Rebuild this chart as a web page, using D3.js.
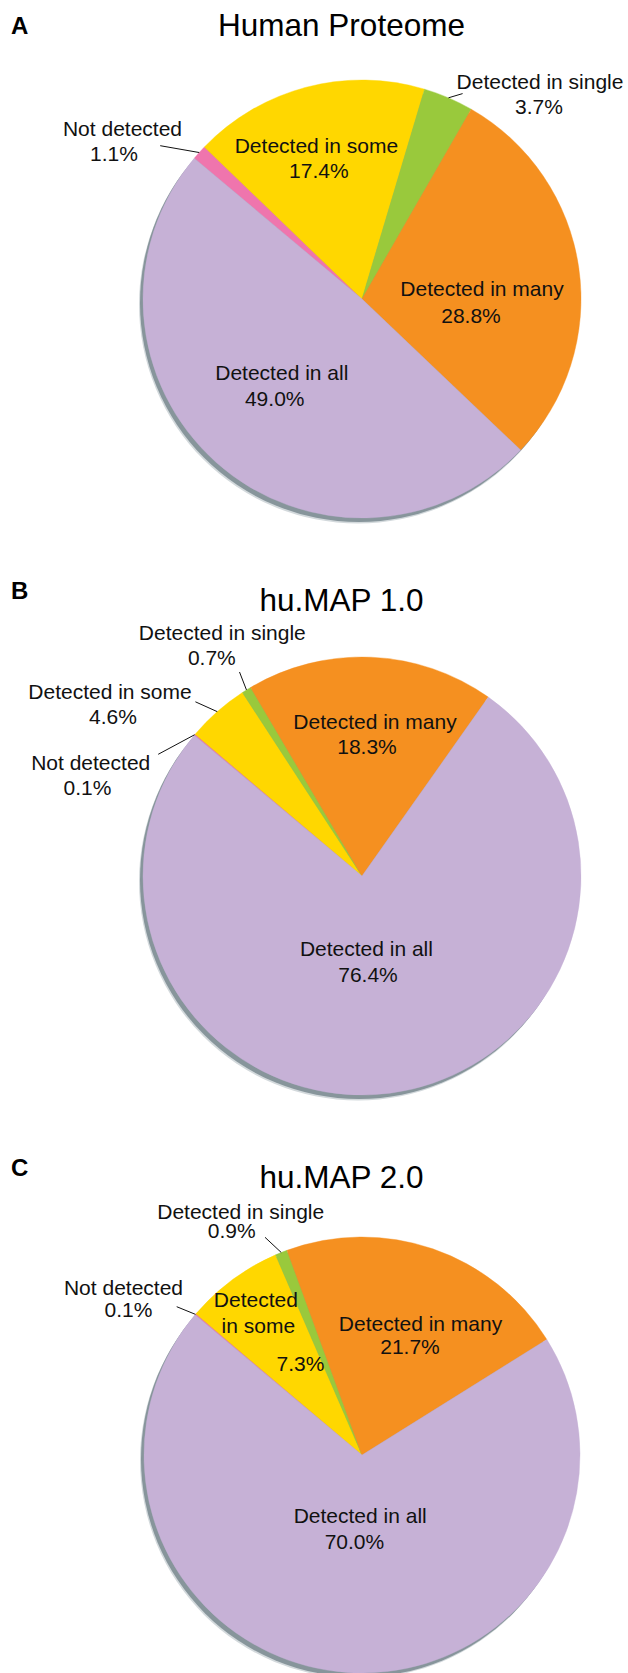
<!DOCTYPE html>
<html>
<head>
<meta charset="utf-8">
<script src="https://cdn.jsdelivr.net/npm/d3@7"></script>
<style>
  body { margin: 0; background: #fff; }
  svg { display: block; font-family: "Liberation Sans", Arial, sans-serif; }
</style>
</head>
<body>
<svg id="chart" width="628" height="1673"></svg>
<script>
// Slice order (clockwise from the first slice)
const categories = ["Not detected", "Detected in some", "Detected in single", "Detected in many", "Detected in all"];

// Percentages per panel, same order as categories
const proteomeValues = [1.1, 17.4, 3.7, 28.8, 49.0];
const humap1Values = [0.1, 4.6, 0.7, 18.3, 76.4];
const humap2Values = [0.1, 7.3, 0.9, 21.7, 70.0];

const titles = ["Human Proteome", "hu.MAP 1.0", "hu.MAP 2.0"];
const panelLetters = ["A", "B", "C"];

const colors = ["#EF75AD", "#FFD700", "#99C93C", "#F59020", "#C6B1D6"];

// Layout of each panel: pie center, radius, title / letter baselines
const panels = [
  { values: proteomeValues, cx: 362, cy: 299, r: 219, titleY: 36, letterY: 34 },
  { values: humap1Values, cx: 362, cy: 876, r: 219, titleY: 611, letterY: 599 },
  { values: humap2Values, cx: 362, cy: 1455, r: 218, titleY: 1188, letterY: 1176 },
];

// Label lines per slice, offsets relative to pie center: [text, dx, dy]
// text 0 = category name, 1 = percentage, otherwise literal text
// leader: outer end of the leader line relative to center
const labelLayout = [
  [ // A
    { lines: [[0, -239.5, -162.6], [1, -248, -137.6]], leader: [-201.8, -153.3] },
    { lines: [[0, -45.6, -146.1], [1, -43.2, -121.5]] },
    { lines: [[0, 178, -210.4], [1, 177, -185.4]], leader: [100.6, -205.4] },
    { lines: [[0, 120, -2.6], [1, 109, 24.2]] },
    { lines: [[0, -80.2, 80.6], [1, -87.3, 107]] },
  ],
  [ // B
    { lines: [[0, -271.3, -105.6], [1, -274.5, -80.6]], leader: [-203.8, -121.7] },
    { lines: [[0, -252, -177], [1, -249, -152]], leader: [-166.6, -174.2] },
    { lines: [[0, -139.7, -236], [1, -150.2, -211]], leader: [-122.5, -204] },
    { lines: [[0, 13, -146.7], [1, 5, -122.4]] },
    { lines: [[0, 4.4, 80], [1, 6, 106]] },
  ],
  [ // C
    { lines: [[0, -238.5, -160.5], [1, -233.5, -138]], leader: [-185.3, -148.3] },
    { lines: [["Detected", -106.2, -148.3], ["in some", -103.7, -122.3], [1, -61.6, -83.8]] },
    { lines: [[0, -121.3, -236.5], [1, -130.3, -216.7]], leader: [-97, -217.7] },
    { lines: [[0, 58.5, -124], [1, 48, -101]] },
    { lines: [[0, -1.8, 67.9], [1, -7.6, 93.8]] },
  ],
];

const svg = d3.select("#chart");
const deg = Math.PI / 180;

const pie = d3.pie()
  .sort(null)
  .startAngle(-50 * deg)
  .endAngle(310 * deg);

panels.forEach((p, pi) => {
  const g = svg.append("g").attr("transform", `translate(${p.cx},${p.cy})`);
  const arc = d3.arc().innerRadius(0).outerRadius(p.r);
  const rim = d3.arc().innerRadius(p.r).outerRadius(p.r);
  const slices = pie(p.values);

  // panel letter and title
  svg.append("text")
    .attr("x", 11)
    .attr("y", p.letterY)
    .style("font-size", "24px")
    .style("font-weight", "bold")
    .text(panelLetters[pi]);

  svg.append("text")
    .attr("x", 341.5)
    .attr("y", p.titleY)
    .attr("text-anchor", "middle")
    .style("font-size", "31.5px")
    .text(titles[pi]);

  // drop shadow to the lower left
  g.append("circle").attr("cx", -4).attr("cy", 5.5).attr("r", p.r).attr("fill", "#D3D9DC");
  g.append("circle").attr("cx", -3).attr("cy", 4).attr("r", p.r).attr("fill", "#87959B");

  g.selectAll("path.slice")
    .data(slices)
    .enter()
    .append("path")
    .attr("class", "slice")
    .attr("d", arc)
    .attr("fill", (d, i) => colors[i])
    .attr("stroke", (d, i) => colors[i])
    .attr("stroke-width", 0.4);

  // labels
  labelLayout[pi].forEach((lab, i) => {
    const pct = `${p.values[i].toFixed(1)}%`;
    lab.lines.forEach(([t, dx, dy]) => {
      const txt = t === 0 ? categories[i] : t === 1 ? pct : t;
      g.append("text")
        .attr("x", dx)
        .attr("y", dy)
        .attr("text-anchor", "middle")
        .style("font-size", "21px")
        .style("fill", "#111")
        .text(txt);
    });
    if (lab.leader) {
      const [x0, y0] = rim.centroid(slices[i]);
      g.append("line")
        .attr("x1", x0)
        .attr("y1", y0)
        .attr("x2", lab.leader[0])
        .attr("y2", lab.leader[1])
        .attr("stroke", "#111")
        .attr("stroke-width", 1);
    }
  });
});
</script>
</body>
</html>
